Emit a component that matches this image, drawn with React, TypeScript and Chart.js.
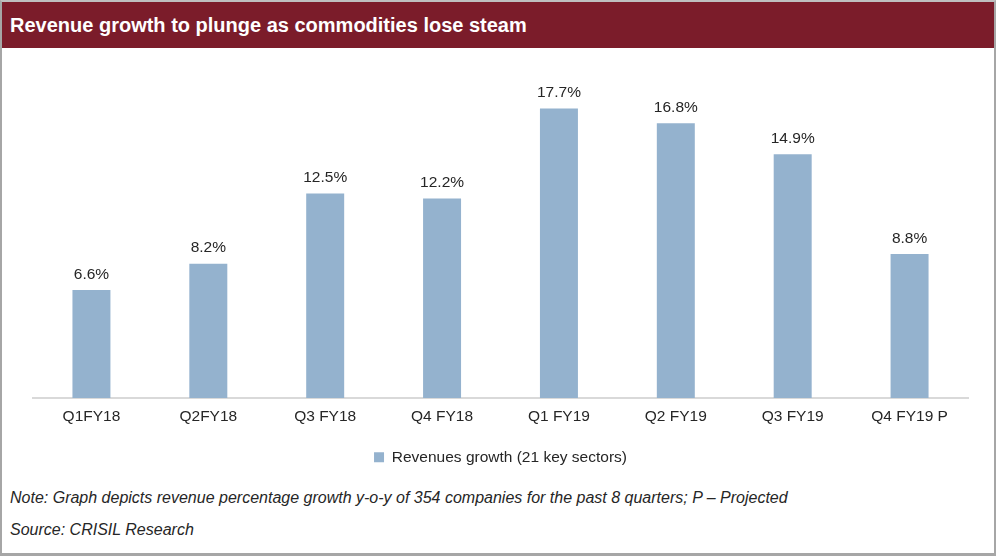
import React, { useEffect, useRef } from "react";
import { Chart, registerables } from "chart.js";

Chart.register(...registerables);

const title = "Revenue growth to plunge as commodities lose steam";
const categories = ["Q1FY18", "Q2FY18", "Q3 FY18", "Q4 FY18", "Q1 FY19", "Q2 FY19", "Q3 FY19", "Q4 FY19 P"];
const revenueGrowth = [6.6, 8.2, 12.5, 12.2, 17.7, 16.8, 14.9, 8.8];
const seriesLabel = "Revenues growth (21 key sectors)";
const noteText = "Note: Graph depicts revenue percentage growth y-o-y of 354 companies for the past 8 quarters; P \u2013 Projected";
const sourceText = "Source: CRISIL Research";

const FONT = "'Liberation Sans', Arial, sans-serif";

const valueLabels = {
  id: "valueLabels",
  afterDatasetsDraw(chart: any) {
    const ctx = chart.ctx;
    const meta = chart.getDatasetMeta(0);
    ctx.save();
    ctx.font = `15.5px ${FONT}`;
    ctx.fillStyle = "#262626";
    ctx.textAlign = "center";
    ctx.textBaseline = "bottom";
    meta.data.forEach((el: any, i: number) => {
      const v = chart.data.datasets[0].data[i];
      ctx.fillText(v.toFixed(1) + "%", el.x, el.y - 8);
    });
    ctx.restore();
  },
};

export default function App() {
  const ref = useRef<HTMLCanvasElement>(null);
  useEffect(() => {
    if (!ref.current) return;
    const chart = new Chart(ref.current, {
      type: "bar",
      data: {
        labels: categories,
        datasets: [
          {
            label: seriesLabel,
            data: revenueGrowth,
            backgroundColor: "#94B2CE",
            categoryPercentage: 1,
            barPercentage: 0.325,
          },
        ],
      },
      options: {
        animation: false,
        responsive: false,
        layout: { padding: { left: 31, right: 26, top: 23, bottom: 5 } },
        scales: {
          x: {
            grid: { display: false, drawTicks: false },
            border: { color: "#D9D9D9", width: 2 },
            ticks: { color: "#262626", font: { family: FONT, size: 15.5 }, padding: 10 },
          },
          y: {
            display: false,
            min: 0,
            max: 20,
          },
        },
        plugins: {
          legend: {
            position: "bottom",
            labels: {
              color: "#262626",
              font: { family: FONT, size: 15.5 },
              boxWidth: 10,
              boxHeight: 10,
              padding: 13,
            },
          },
          tooltip: { enabled: false },
        },
      },
      plugins: [valueLabels],
    });
    return () => chart.destroy();
  }, []);

  return (
    <div
      style={{
        position: "absolute",
        left: 0,
        top: 0,
        width: 996,
        height: 556,
        boxSizing: "border-box",
        borderLeft: "2px solid #A6A6A6",
        borderRight: "2px solid #A6A6A6",
        borderBottom: "3px solid #A6A6A6",
        borderTop: "2px solid #BFBFBF",
        background: "#fff",
        fontFamily: FONT,
      }}
    >
      <div
        style={{
          height: 46,
          background: "#7B1C2A",
          color: "#fff",
          fontWeight: "bold",
          fontSize: 20,
          lineHeight: "46px",
          paddingLeft: 8,
        }}
      >
        {title}
      </div>
      <canvas ref={ref} width={992} height={432} style={{ display: "block" }} />
      <div style={{ position: "absolute", left: 8, top: 487, fontStyle: "italic", fontSize: 16, color: "#262626" }}>
        {noteText}
      </div>
      <div style={{ position: "absolute", left: 8, top: 519, fontStyle: "italic", fontSize: 16, color: "#262626" }}>
        {sourceText}
      </div>
    </div>
  );
}
